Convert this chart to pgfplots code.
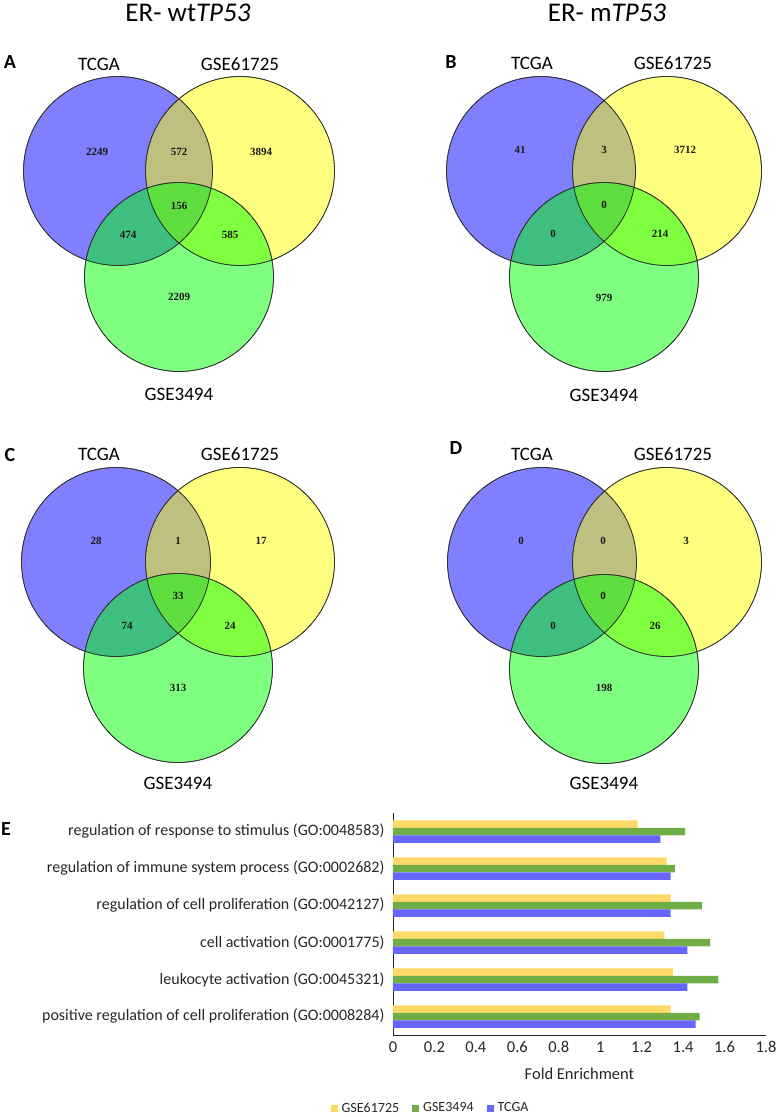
\documentclass[border=0pt]{standalone}
\usepackage{pgfplots}
\usepackage{pgfplotstable}
\pgfplotsset{compat=1.18}
\usepackage{fontspec}
\setmainfont{Carlito}
\newfontfamily\numfont{Liberation Serif}
\definecolor{vblue}{RGB}{0,0,255}
\definecolor{vyellow}{RGB}{255,255,0}
\definecolor{vgreen}{RGB}{0,255,0}
\definecolor{byellow}{RGB}{255,217,102}
\definecolor{bgreen}{RGB}{112,173,71}
\definecolor{bblue}{RGB}{102,102,255}
\newcommand{\fs}[1]{\fontsize{#1}{#1}\selectfont}

\pgfplotstableread{
x y label
97 152 2249
179 152 572
261 152 3894
179 206 156
128 235 474
230 235 585
179 297 2209
520 150 41
604 150 3
685 150 3712
604 205 0
553 234 0
660 234 214
604 298 979
96 541 28
178 541 1
261 541 17
178 596 33
127 626 74
230 626 24
178 688 313
521 541 0
603 541 0
686 541 3
603 596 0
553 626 0
655 626 26
604 688 198
}\venncounts

\pgfplotstableread{
y yel grn blu
0 1.18 1.41 1.29
1 1.32 1.36 1.34
2 1.34 1.49 1.34
3 1.31 1.53 1.42
4 1.35 1.57 1.42
5 1.34 1.48 1.46
}\bardata

\begin{document}
\begin{tikzpicture}
\useasboundingbox (0,0) rectangle (777pt,1117pt);
\begin{axis}[at={(0pt,0pt)}, anchor=south west, width=777pt, height=1117pt,
  scale only axis, xmin=0, xmax=777, ymin=0, ymax=1117, y dir=reverse,
  hide axis, clip=false]
% circles
\addplot[only marks, mark=*, mark size=94.5pt, mark options={draw=none, fill=vblue, fill opacity=0.5}]
  coordinates {(118,171) (541,171) (116,562) (542,562)};
\addplot[only marks, mark=*, mark size=94.5pt, mark options={draw=none, fill=vyellow, fill opacity=0.5}]
  coordinates {(240,171) (667,171) (240,562) (667,562)};
\addplot[only marks, mark=*, mark size=94.5pt, mark options={draw=none, fill=vgreen, fill opacity=0.5}]
  coordinates {(179,277) (604,277) (178,668) (604,669)};
\addplot[only marks, mark=o, mark size=94.5pt, mark options={draw=black!80, line width=0.8pt}]
  coordinates {(118,171) (541,171) (116,562) (542,562)
               (240,171) (667,171) (240,562) (667,562)
               (179,277) (604,277) (178,668) (604,669)};
% counts
\addplot[only marks, mark=none, point meta=explicit symbolic, nodes near coords,
  every node near coord/.append style={anchor=center, font=\numfont\bfseries\fs{11}, text=black!90}]
  table[x=x, y=y, meta=label] {\venncounts};
% titles
\node[font=\fs{27}] at (axis cs:188,13) {ER- wt\textit{TP53}};
\node[font=\fs{27}] at (axis cs:607,13) {ER- m\textit{TP53}};
% panel letters
\node[font=\bfseries\fs{20}] at (axis cs:10,62) {A};
\node[font=\bfseries\fs{20}] at (axis cs:451,62) {B};
\node[font=\bfseries\fs{20}] at (axis cs:10,455) {C};
\node[font=\bfseries\fs{20}] at (axis cs:456,448) {D};
\node[font=\bfseries\fs{20}] at (axis cs:6,829) {E};
% set labels
\node[font=\fs{19}] at (axis cs:99,64) {TCGA};
\node[font=\fs{19}] at (axis cs:240,64) {GSE61725};
\node[font=\fs{19}] at (axis cs:179,394) {GSE3494};
\node[font=\fs{19}] at (axis cs:532,63) {TCGA};
\node[font=\fs{19}] at (axis cs:673,63) {GSE61725};
\node[font=\fs{19}] at (axis cs:604,395) {GSE3494};
\node[font=\fs{19}] at (axis cs:99,454) {TCGA};
\node[font=\fs{19}] at (axis cs:240,454) {GSE61725};
\node[font=\fs{19}] at (axis cs:178,783) {GSE3494};
\node[font=\fs{19}] at (axis cs:532,454) {TCGA};
\node[font=\fs{19}] at (axis cs:673,454) {GSE61725};
\node[font=\fs{19}] at (axis cs:604,783) {GSE3494};
\end{axis}

\begin{axis}[at={(393pt,82pt)}, anchor=south west, width=373pt, height=222pt,
  scale only axis, xmin=0, xmax=1.8, ymin=-0.5, ymax=5.5, y dir=reverse,
  axis x line*=bottom, axis y line*=left, axis line style={black!85, line width=0.8pt},
  major tick length=0pt,
  xtick={0,0.2,0.4,0.6,0.8,1,1.2,1.4,1.6,1.8},
  ytick={0,1,2,3,4,5},
  yticklabels={regulation of response to stimulus (GO:0048583),
    regulation of immune system process (GO:0002682),
    regulation of cell proliferation (GO:0042127),
    cell activation (GO:0001775),
    leukocyte activation (GO:0045321),
    positive regulation of cell proliferation (GO:0008284)},
  yticklabel style={font=\fs{16}, text=black!85, xshift=-5pt},
  xticklabel style={font=\fs{16.5}, text=black!85, yshift=-3pt,
    /pgf/number format/fixed, /pgf/number format/assume math mode=true},
  xlabel={Fold Enrichment},
  xlabel style={font=\fs{16.5}, text=black!85, at={(axis description cs:0.5,-0.176)}, anchor=center},
  legend style={at={(axis description cs:0.086,-0.329)}, anchor=center, draw=none,
    legend columns=3, nodes={font=\fs{14}, text=black!85}},
  legend image code/.code={\path (-11pt,0pt); \path (9pt,0pt);
    \fill[#1] (0pt,-3.5pt) rectangle (7pt,3.5pt);},
  clip=false]
\addplot[xbar, fill=byellow, draw=none, bar width=7.5pt, bar shift=7.5pt] table[x=yel, y=y] {\bardata};
\addlegendentry{GSE61725}
\addplot[xbar, fill=bgreen, draw=none, bar width=7.5pt, bar shift=0pt] table[x=grn, y=y] {\bardata};
\addlegendentry{GSE3494}
\addplot[xbar, fill=bblue, draw=none, bar width=7.5pt, bar shift=-7.5pt] table[x=blu, y=y] {\bardata};
\addlegendentry{TCGA}
\end{axis}
\end{tikzpicture}
\end{document}
